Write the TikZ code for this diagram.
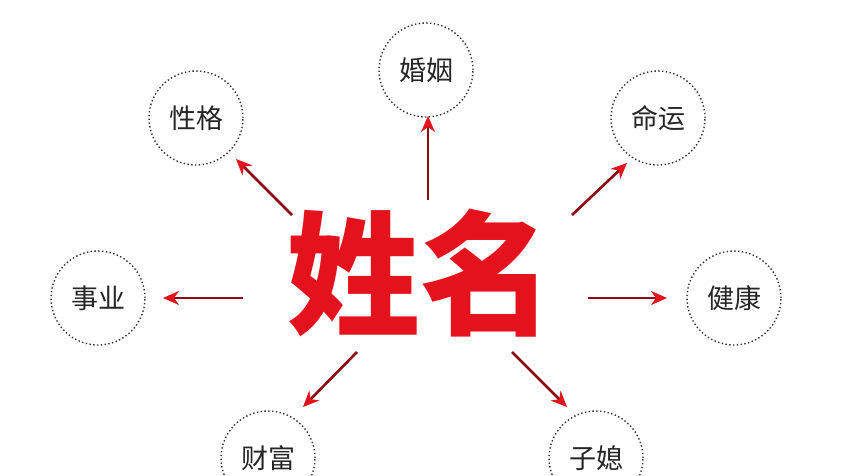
\documentclass[tikz,border=0pt]{standalone}
\usepackage{fontspec}
\newfontfamily\cjk{Noto Sans CJK SC}
\usetikzlibrary{arrows.meta}
\definecolor{shaft}{RGB}{140,10,20}
\definecolor{tipred}{RGB}{225,20,30}
\definecolor{bigred}{RGB}{228,18,28}
\begin{document}
\begin{tikzpicture}[x=1pt,y=-1pt,
  ring/.style={circle,draw=black!80,dash pattern=on 1.4pt off 2.4pt,line width=1.4pt,minimum size=94pt,inner sep=0pt,font=\cjk\fontsize{27}{27}\selectfont,text=black!85},
  arr/.style={draw=shaft,line width=2.6pt,-{Stealth[length=16pt,width=14pt,inset=5pt,color=tipred]}}]
\useasboundingbox (0,0) rectangle (864,476);
\fill[white] (0,0) rectangle (864,476);
\node[ring] (hy) at (426,70) {婚姻};
\node[ring] (xg) at (196,118) {性格};
\node[ring] (my) at (658,118) {命运};
\node[ring] (sy) at (98,298) {事业};
\node[ring] (jk) at (734,298) {健康};
\node[ring] (cf) at (268,458) {财富};
\node[ring] (zx) at (596,458) {子媳};
\node[font=\cjk\bfseries\fontsize{134}{134}\selectfont,text=bigred,inner sep=0pt] (xm) at (420,273) {姓名};
\coordinate (a1) at (292,215); \coordinate (b1) at (236,159);
\coordinate (a2) at (428,200); \coordinate (b2) at (428,116);
\coordinate (a3) at (572,215); \coordinate (b3) at (627,163);
\coordinate (a4) at (243,298); \coordinate (b4) at (163,298);
\coordinate (a5) at (588,298); \coordinate (b5) at (667,298);
\coordinate (a6) at (357,352); \coordinate (b6) at (303,407);
\coordinate (a7) at (512,352); \coordinate (b7) at (567,407);
\foreach \i in {1,...,7}{\draw[arr] (a\i) -- (b\i);}
\end{tikzpicture}
\end{document}
